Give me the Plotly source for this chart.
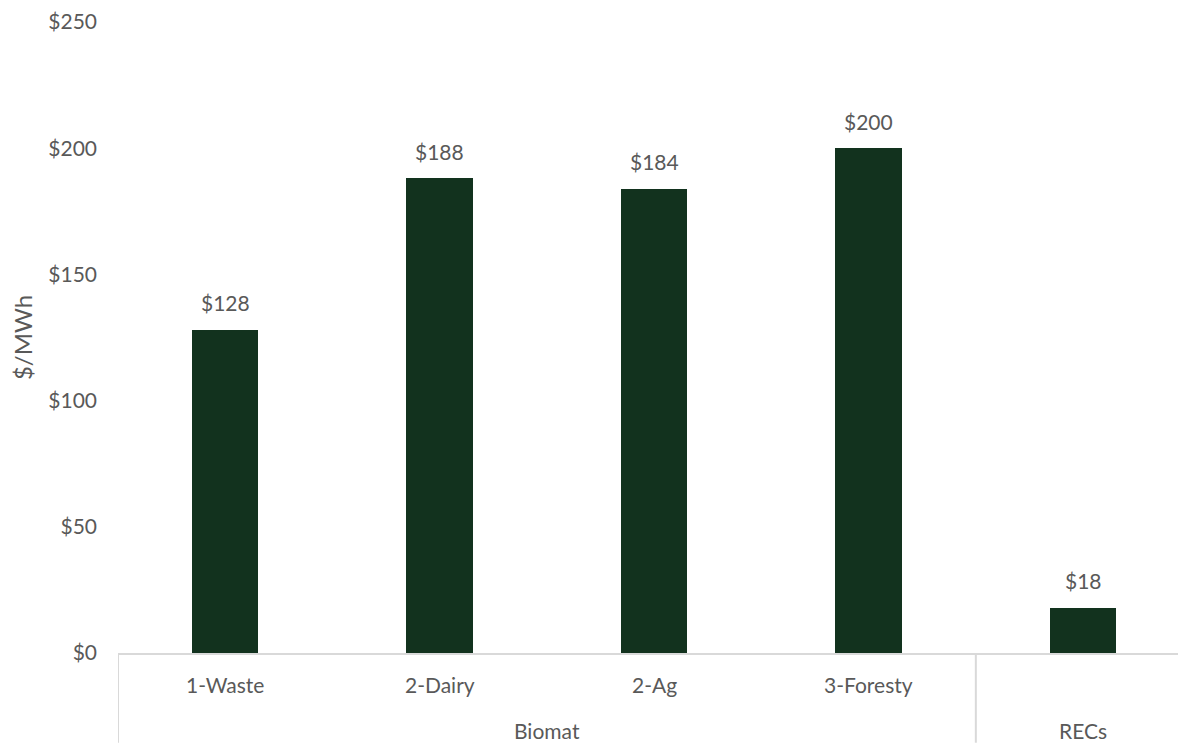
import plotly.graph_objects as go

categories = ["1-Waste", "2-Dairy", "2-Ag", "3-Foresty", ""]
groups = ["Biomat", "Biomat", "Biomat", "Biomat", "RECs"]
values = [128, 188, 184, 200, 18]
y_ticks = [0, 50, 100, 150, 200, 250]
y_tick_labels = ["$" + str(v) for v in y_ticks]

FONT = "Lato, Carlito, Calibri, sans-serif"
GRAY = "#595959"
LINE = "#D9D9D9"
BAR = "#12321E"

x = list(range(len(categories)))

# page has an 8px body margin, so the figure is sized/positioned to compensate
W, H = 1178, 735
L, T, B = 110, 12, 90
plot_h = H - T - B

fig = go.Figure()
fig.add_trace(go.Bar(
    x=x, y=values, width=0.31,
    marker=dict(color=BAR, line=dict(width=0)),
    hoverinfo="skip",
))

# value labels above bars
for xi, v in zip(x, values):
    fig.add_annotation(x=xi, y=v, xref="x", yref="y", text="$" + str(v), showarrow=False,
                       yanchor="middle", yshift=27,
                       font=dict(family=FONT, size=21, color=GRAY))

# category labels
for xi, c in zip(x, categories):
    if c:
        fig.add_annotation(x=xi, y=0, xref="x", yref="paper", text=c, showarrow=False,
                           yanchor="middle", yshift=-31,
                           font=dict(family=FONT, size=21, color=GRAY))

# group labels and dividers
group_names = []
for g in groups:
    if g not in group_names:
        group_names.append(g)
for g in group_names:
    idx = [i for i, gg in enumerate(groups) if gg == g]
    lo = idx[0] - 0.5
    fig.add_annotation(x=(idx[0] + idx[-1]) / 2, y=0, xref="x", yref="paper", text=g,
                       showarrow=False, yanchor="middle", yshift=-77,
                       font=dict(family=FONT, size=21, color=GRAY))
    fig.add_shape(type="line", xref="x", yref="paper", x0=lo, x1=lo, y0=0, y1=-B / plot_h,
                  line=dict(color=LINE, width=2))

fig.update_layout(
    width=W, height=H,
    margin=dict(l=L, r=0, t=T, b=B),
    plot_bgcolor="white", paper_bgcolor="white",
    showlegend=False,
    bargap=0,
    xaxis=dict(range=[-0.5, 4.48], showticklabels=False, showgrid=False, zeroline=False,
               showline=True, linecolor=LINE, linewidth=2, ticks=""),
    yaxis=dict(range=[0, 250], tickvals=y_ticks, ticktext=y_tick_labels,
               showgrid=False, zeroline=False, showline=False, ticks="",
               ticklabelstandoff=20, ticklabeloverflow="allow",
               tickfont=dict(family=FONT, size=21, color=GRAY),
               title=dict(text="$/MWh", standoff=14,
                          font=dict(family=FONT, size=24, color=GRAY))),
)

fig.write_html("out.html")
